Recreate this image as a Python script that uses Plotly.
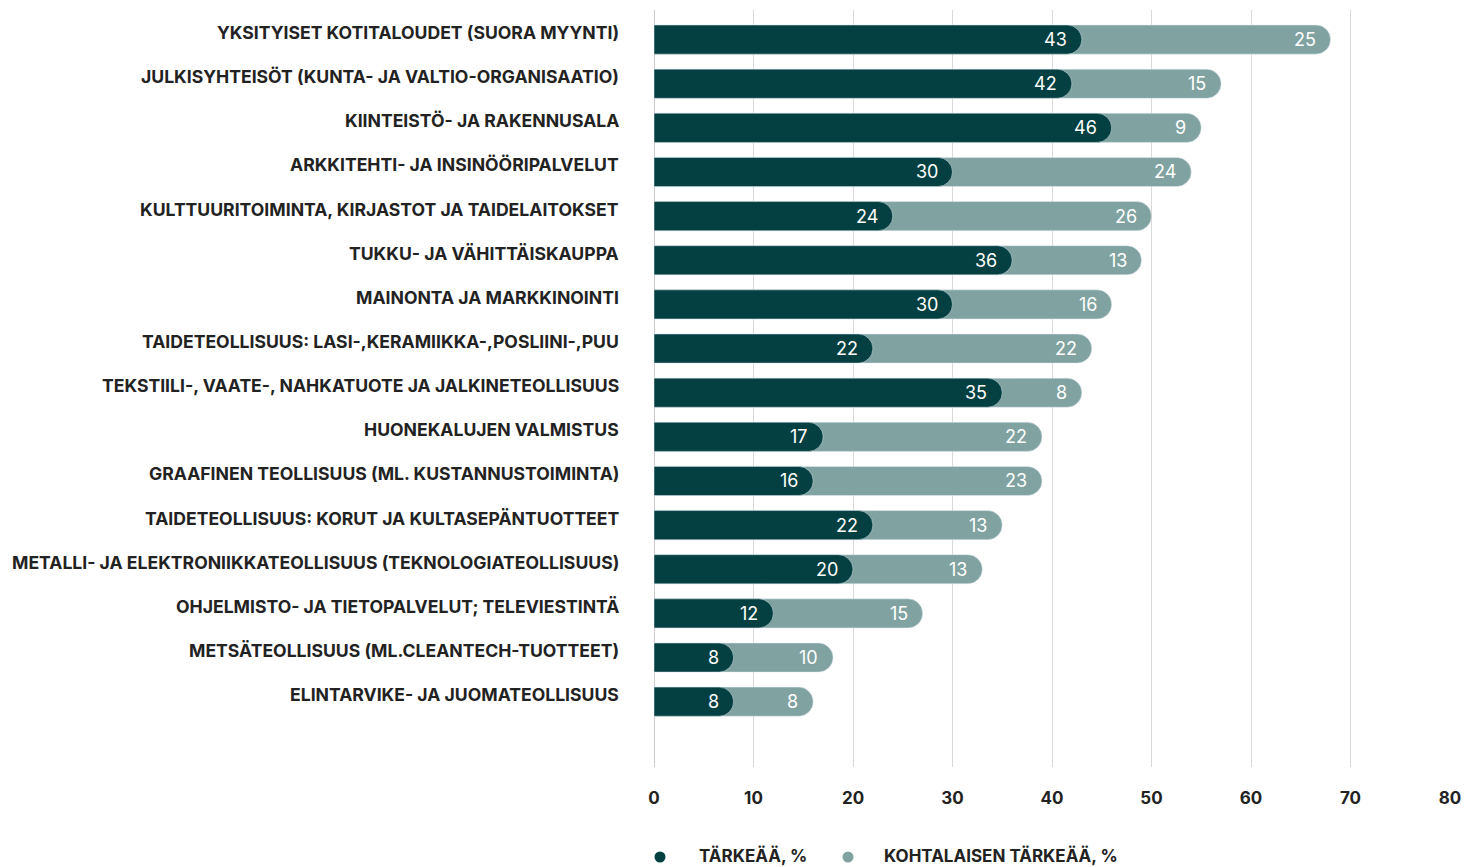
import plotly.graph_objects as go

# Toimialat ja vastausosuudet (%)
categories = [
    "YKSITYISET KOTITALOUDET (SUORA MYYNTI)",
    "JULKISYHTEISÖT (KUNTA- JA VALTIO-ORGANISAATIO)",
    "KIINTEISTÖ- JA RAKENNUSALA",
    "ARKKITEHTI- JA INSINÖÖRIPALVELUT",
    "KULTTUURITOIMINTA, KIRJASTOT JA TAIDELAITOKSET",
    "TUKKU- JA VÄHITTÄISKAUPPA",
    "MAINONTA JA MARKKINOINTI",
    "TAIDETEOLLISUUS: LASI-,KERAMIIKKA-,POSLIINI-,PUU",
    "TEKSTIILI-, VAATE-, NAHKATUOTE JA JALKINETEOLLISUUS",
    "HUONEKALUJEN VALMISTUS",
    "GRAAFINEN TEOLLISUUS (ML. KUSTANNUSTOIMINTA)",
    "TAIDETEOLLISUUS: KORUT JA KULTASEPÄNTUOTTEET",
    "METALLI- JA ELEKTRONIIKKATEOLLISUUS (TEKNOLOGIATEOLLISUUS)",
    "OHJELMISTO- JA TIETOPALVELUT; TELEVIESTINTÄ",
    "METSÄTEOLLISUUS (ML.CLEANTECH-TUOTTEET)",
    "ELINTARVIKE- JA JUOMATEOLLISUUS",
]
tarkea = [43, 42, 46, 30, 24, 36, 30, 22, 35, 17, 16, 22, 20, 12, 8, 8]
kohtalainen = [25, 15, 9, 24, 26, 13, 16, 22, 8, 22, 23, 13, 13, 15, 10, 8]
x_ticks = [0, 10, 20, 30, 40, 50, 60, 70, 80]

series_names = ["TÄRKEÄÄ, %", "KOHTALAISEN TÄRKEÄÄ, %"]
DARK = "#044041"
LIGHT = "#80a3a1"
TEXT = "#222222"
FONT = "Inter"

totals = [a + b for a, b in zip(tarkea, kohtalainen)]
idx = list(range(len(categories)))
Y_RANGE = [16.48, -0.67]
BAR_W = 0.66

fig = go.Figure()

# Vaaleampi palkki koko summan mittaisena taustalla
fig.add_trace(go.Bar(
    y=idx, x=totals, orientation="h", marker_color=LIGHT,
    width=BAR_W, showlegend=False, hoverinfo="skip", yaxis="y",
))
# Tumma palkki omalla akselillaan, jotta sen pää pyöristyy erikseen
fig.add_trace(go.Bar(
    y=idx, x=tarkea, orientation="h", marker_color=DARK,
    width=BAR_W, showlegend=False, hoverinfo="skip", yaxis="y2",
))

# Arvot palkkien päihin
num_font = dict(family=FONT, size=18, color="white")
for i in idx:
    fig.add_annotation(x=totals[i], y=i, xref="x", yref="y",
                       text=str(kohtalainen[i]), showarrow=False,
                       xanchor="right", yanchor="middle", xshift=-13,
                       font=num_font)
    fig.add_annotation(x=tarkea[i], y=i, xref="x", yref="y",
                       text=str(tarkea[i]), showarrow=False,
                       xanchor="right", yanchor="middle", xshift=-13,
                       font=num_font)

# Toimialojen nimet
for i, c in enumerate(categories):
    fig.add_annotation(
        x=-0.0415, xref="paper", y=i, yref="y", text=c,
        xanchor="right", yanchor="middle", showarrow=False, yshift=7,
        font=dict(family=FONT, size=17.6, color=TEXT, weight="bold"),
    )

# Selite
legend_pos = [(660, 697), (848, 882)]
PX0, PW = 654, 796
PLOT_BOTTOM, PH = 767, 757
LEG_Y = 855
for name, col, (cx, tx) in zip(series_names, [DARK, LIGHT], legend_pos):
    fig.add_shape(type="circle", xref="paper", yref="paper",
                  xsizemode="pixel", ysizemode="pixel",
                  xanchor=(cx - PX0) / PW, yanchor=-(LEG_Y + 2 - PLOT_BOTTOM) / PH,
                  x0=-5.5, x1=5.5, y0=-5.5, y1=5.5,
                  fillcolor=col, line_width=0)
    fig.add_annotation(x=(tx - PX0) / PW, y=-(LEG_Y - PLOT_BOTTOM) / PH,
                       xref="paper", yref="paper", text=name,
                       xanchor="left", yanchor="middle", showarrow=False,
                       font=dict(family=FONT, size=17, color=TEXT, weight="bold"))

fig.update_layout(
    width=1478, height=867,
    margin=dict(l=654, r=28, t=10, b=100),
    barmode="overlay",
    barcornerradius=15,
    plot_bgcolor="white", paper_bgcolor="white",
    font=dict(family=FONT, color=TEXT),
    showlegend=False,
    yaxis=dict(range=Y_RANGE, showticklabels=False, showgrid=False,
               zeroline=False, showline=False),
    yaxis2=dict(range=Y_RANGE, overlaying="y", showticklabels=False,
                showgrid=False, zeroline=False, showline=False),
)
fig.update_xaxes(
    range=[0, 80], tickvals=x_ticks, showgrid=True, gridcolor="#d9d9d9",
    gridwidth=1, zeroline=True, zerolinecolor="#cccccc", zerolinewidth=1,
    showline=False, ticks="", ticklabelstandoff=19,
    tickfont=dict(family=FONT, size=17, color=TEXT, weight="bold"),
)

fig.write_html("out.html")
